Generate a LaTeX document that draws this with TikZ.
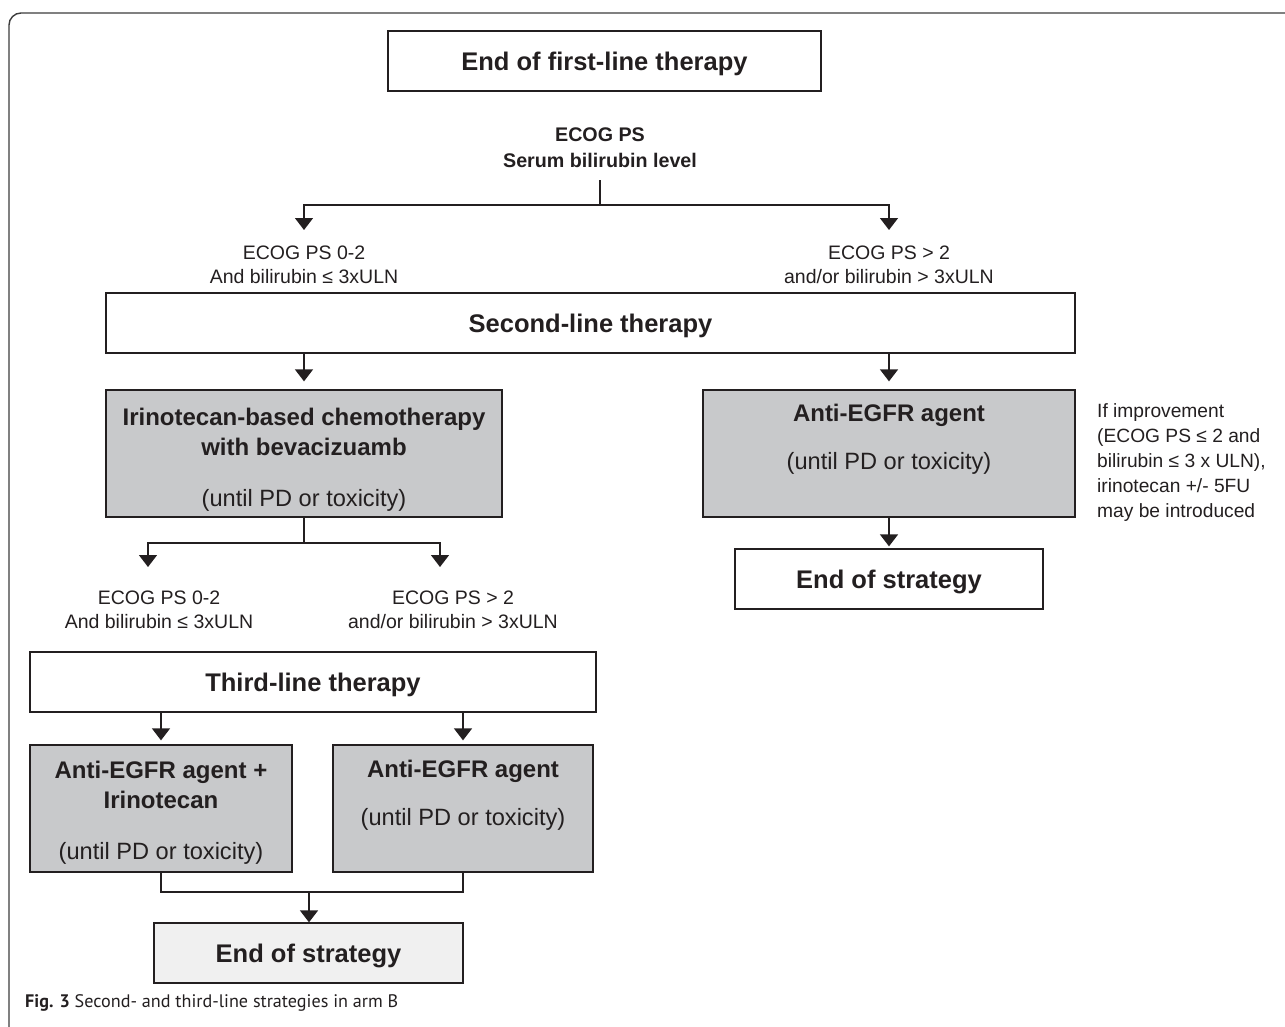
\documentclass[tikz,border=0pt]{standalone}
\usepackage{fontspec}
\usepackage{graphicx}
\setmainfont{Liberation Sans}
\newfontfamily\capfont{PT Sans}
\usetikzlibrary{arrows.meta}
\definecolor{ink}{RGB}{35,31,32}
\definecolor{boxgray}{RGB}{200,201,203}
\definecolor{endgray}{RGB}{240,240,240}
\definecolor{framecol}{RGB}{60,60,60}
\begin{document}
\begin{tikzpicture}[x=1pt,y=-1pt,
  box/.style={draw=ink, line width=1.3pt, inner sep=0pt, text=ink, text height=18.3pt, text depth=0pt, font=\fontsize{25.5}{30}\selectfont\bfseries},
  graybox/.style={box, fill=boxgray},
  hd/.style={text=ink, inner sep=0pt, align=center, font=\fontsize{24}{30}\selectfont\bfseries},
  sub/.style={anchor=base, text=ink, inner sep=0pt, font=\fontsize{23.6}{28}\selectfont},
  cond/.style={anchor=north, text=ink, inner xsep=0pt, align=center, font=\fontsize{19.5}{24}\selectfont},
  conn/.style={draw=ink, line width=1.5pt},
  arr/.style={conn, -{Triangle[width=18pt,length=12pt]}},
]
\useasboundingbox (0,0) rectangle (1285,1026);
\clip (0,0) rectangle (1285,1026);
\draw[draw=framecol, line width=1.4pt, rounded corners=12pt] (9,1060) -- (9,13) -- (1320,13);

% top
\node[box, minimum width=433pt, minimum height=60pt] (b1) at (604.5,61) {End of first-line therapy};
\node[cond, anchor=south, inner ysep=12pt, font=\fontsize{19.7}{26}\selectfont\bfseries] (crit) at (600,180) {ECOG PS\\Serum bilirubin level};
\coordinate (j1) at (600,205);
\node[cond, inner ysep=16pt] (l1) at (304,230) {ECOG PS 0-2\\And bilirubin ≤ 3xULN};
\node[cond, inner ysep=16pt] (r1) at (889,230) {ECOG PS > 2\\and/or bilirubin > 3xULN};
\draw[conn] (crit.south) -- (j1);
\draw[arr] (j1) -| (l1.north);
\draw[arr] (j1) -| (r1.north);

% second line
\node[box, minimum width=969pt, minimum height=60pt] (b2) at (590.5,323) {Second-line therapy};
\node[graybox, minimum width=396pt, minimum height=127pt] (g1) at (304,453.5) {};
\node[hd, anchor=north] (g1t) at (304,408) {Irinotecan-based chemotherapy\\with bevacizuamb};
\node[sub] (g1s) at (304,506) {(until PD or toxicity)};
\node[graybox, minimum width=372pt, minimum height=127pt] (g2) at (889,453.5) {};
\node[hd, anchor=base] (g2t) at (889,421) {Anti-EGFR agent};
\node[sub] (g2s) at (889,469) {(until PD or toxicity)};
\draw[arr, shorten >=8pt] (b2.south -| g1.north) -- (g1.north);
\draw[arr, shorten >=8pt] (b2.south -| g2.north) -- (g2.north);

\node[anchor=north west, inner sep=0pt, align=left, text=ink, font=\fontsize{19.2}{25}\selectfont] (note) at (1097,403) {If improvement\\(ECOG PS ≤ 2 and\\bilirubin ≤ 3 x ULN),\\irinotecan +/- 5FU\\may be introduced};

\node[box, fill=white, minimum width=308pt, minimum height=60pt] (e1) at (889,579) {End of strategy};
\draw[arr, shorten >=2pt] (g2.south) -- (e1.north);

% split after irinotecan
\coordinate (j2) at (304,543);
\coordinate (a2l) at (148,567);
\coordinate (a2r) at (440,567);
\node[cond, inner ysep=0pt] (l2) at (159,591) {ECOG PS 0-2\\And bilirubin ≤ 3xULN};
\node[cond, inner ysep=0pt] (r2) at (453,591) {ECOG PS > 2\\and/or bilirubin > 3xULN};
\draw[conn] (g1.south) -- (j2);
\draw[arr] (j2) -| (a2l);
\draw[arr] (j2) -| (a2r);

% third line
\node[box, minimum width=566pt, minimum height=60pt] (b3) at (313,682) {Third-line therapy};
\node[graybox, minimum width=262pt, minimum height=127pt] (g3) at (161,808.5) {};
\node[hd, anchor=north] (g3t) at (161,761) {Anti-EGFR agent +\\Irinotecan};
\node[sub] (g3s) at (161,859) {(until PD or toxicity)};
\node[graybox, minimum width=260pt, minimum height=127pt] (g4) at (463,808.5) {};
\node[hd, anchor=base] (g4t) at (463,777) {Anti-EGFR agent};
\node[sub] (g4s) at (463,825) {(until PD or toxicity)};
\draw[arr, shorten >=4pt] (b3.south -| g3.north) -- (g3.north);
\draw[arr, shorten >=4pt] (b3.south -| g4.north) -- (g4.north);

\node[box, fill=endgray, minimum width=309pt, minimum height=60pt] (e2) at (308.5,953) {End of strategy};
\coordinate (j3) at (309,892);
\draw[conn] (g3.south) |- (j3) -| (g4.south);
\draw[arr] (j3) -- (j3 |- e2.north);

% caption
\node[anchor=base west, inner sep=0pt, text=ink] (cap) at (25,1007) {\resizebox{373pt}{!}{\capfont\bfseries Fig. 3\mdseries\ Second- and third-line strategies in arm B}};
\end{tikzpicture}
\end{document}
